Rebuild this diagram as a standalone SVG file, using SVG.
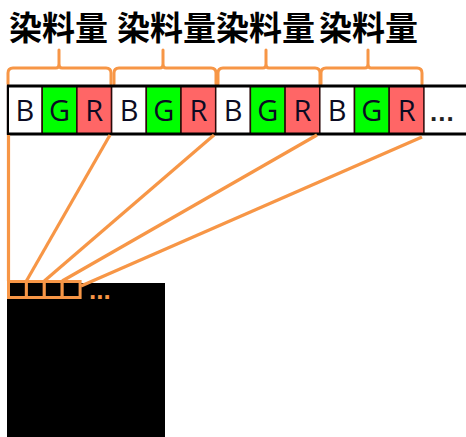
<svg xmlns="http://www.w3.org/2000/svg" width="466" height="437" viewBox="0 0 466 437">
  <style>
    .lbl { font-family: "Noto Sans CJK SC", "Noto Sans CJK JP", sans-serif; font-weight: 700; font-size: 33px; fill: #000; }
    .brace { fill: none; stroke: #F79646; stroke-width: 3; stroke-linejoin: round; stroke-linecap: round; }
    .cell { stroke: #2a0a0a; stroke-width: 1.5; }
    .b { fill: #ffffff; }
    .g { fill: #00FF00; }
    .r { fill: #FF6666; }
    .ch { font-family: "Open Sans", "Liberation Sans", sans-serif; font-size: 29px; fill: #0b0b22; text-anchor: middle; }
    .link { stroke: #F79646; stroke-width: 3.2; fill: none; }
    .px { fill: #000; stroke: #F79646; stroke-width: 3; }
  </style>

  <!-- labels -->
  <g id="labels">
    <text class="lbl" x="9" y="40">染料量</text>
    <text class="lbl" x="117" y="40">染料量</text>
    <text class="lbl" x="216" y="40">染料量</text>
    <text class="lbl" x="319" y="40">染料量</text>
  </g>

  <!-- braces grouping each BGR triple -->
  <g id="braces">
    <path class="brace" d="M8,84 L8,73 Q8,68 13,68 L56,68 Q59,68 59,64 L59,50 L59,64 Q59,68 62,68 L106,68 Q111,68 111,73 L111,84"/>
    <path class="brace" d="M114,84 L114,73 Q114,68 119,68 L160,68 Q163,68 163,64 L163,50 L163,64 Q163,68 166,68 L211,68 Q216,68 216,73 L216,84"/>
    <path class="brace" d="M218,84 L218,73 Q218,68 223,68 L263,68 Q266,68 266,64 L266,50 L266,64 Q266,68 269,68 L315,68 Q320,68 320,73 L320,84"/>
    <path class="brace" d="M321,84 L321,73 Q321,68 326,68 L365,68 Q368,68 368,64 L368,50 L368,64 Q368,68 371,68 L417,68 Q422,68 422,73 L422,84"/>
  </g>

  <!-- pixel strip -->
  <g id="strip">
    <rect class="cell b" x="7.5" y="86" width="34.7" height="48"/>
    <rect class="cell g" x="42.2" y="86" width="34.7" height="48"/>
    <rect class="cell r" x="76.9" y="86" width="34.7" height="48"/>
    <rect class="cell b" x="111.6" y="86" width="34.7" height="48"/>
    <rect class="cell g" x="146.3" y="86" width="34.7" height="48"/>
    <rect class="cell r" x="181" y="86" width="34.7" height="48"/>
    <rect class="cell b" x="215.7" y="86" width="34.7" height="48"/>
    <rect class="cell g" x="250.4" y="86" width="34.7" height="48"/>
    <rect class="cell r" x="285.1" y="86" width="34.7" height="48"/>
    <rect class="cell b" x="319.8" y="86" width="34.7" height="48"/>
    <rect class="cell g" x="354.5" y="86" width="34.7" height="48"/>
    <rect class="cell r" x="389.2" y="86" width="34.7" height="48"/>
    <line x1="7" y1="86" x2="466" y2="86" stroke="#000" stroke-width="3"/>
    <line x1="7" y1="134" x2="466" y2="134" stroke="#000" stroke-width="3"/>
    <line x1="8" y1="85" x2="8" y2="135" stroke="#000" stroke-width="2"/>
    <text class="ch" x="24.9" y="120.5">B</text>
    <text class="ch" x="59.6" y="120.5">G</text>
    <text class="ch" x="94.3" y="120.5">R</text>
    <text class="ch" x="129" y="120.5">B</text>
    <text class="ch" x="163.7" y="120.5">G</text>
    <text class="ch" x="198.4" y="120.5">R</text>
    <text class="ch" x="233.1" y="120.5">B</text>
    <text class="ch" x="267.8" y="120.5">G</text>
    <text class="ch" x="302.5" y="120.5">R</text>
    <text class="ch" x="337.2" y="120.5">B</text>
    <text class="ch" x="371.9" y="120.5">G</text>
    <text class="ch" x="406.6" y="120.5">R</text>
    <text x="430" y="121" font-family="Liberation Sans, sans-serif" font-weight="700" font-size="26" letter-spacing="1" fill="#222">...</text>
  </g>

  <!-- output image -->
  <g id="image">
    <rect x="7" y="283" width="158" height="154" fill="#000"/>
    <rect class="px" x="8.5" y="281.5" width="17.9" height="16"/>
    <rect class="px" x="26.4" y="281.5" width="17.9" height="16"/>
    <rect class="px" x="44.3" y="281.5" width="17.9" height="16"/>
    <rect class="px" x="62.2" y="281.5" width="17.9" height="16"/>
    <text x="89" y="299" font-family="Liberation Sans, sans-serif" font-weight="700" font-size="26" fill="#F79646">...</text>
  </g>

  <!-- connectors from each triple to its pixel -->
  <g id="connectors">
    <line class="link" x1="8.5" y1="135" x2="8.5" y2="281"/>
    <line class="link" x1="110" y1="135" x2="26.4" y2="281"/>
    <line class="link" x1="214" y1="135" x2="44.3" y2="281"/>
    <line class="link" x1="317" y1="135" x2="62.2" y2="281"/>
    <line class="link" x1="422" y1="137" x2="81" y2="286"/>
  </g>
</svg>
